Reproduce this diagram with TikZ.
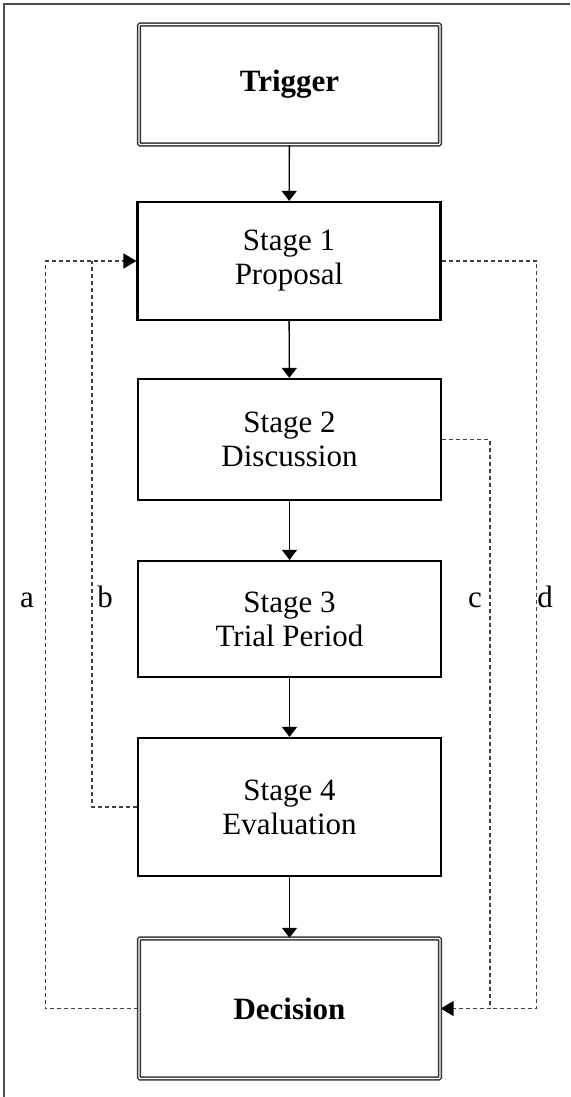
\documentclass[tikz,border=0pt]{standalone}
\usepackage{fontspec}
\setmainfont{Liberation Serif}
\usetikzlibrary{arrows.meta}
\begin{document}
\begin{tikzpicture}[x=1pt,y=1pt,
  txt/.style={font=\fontsize{31}{34}\selectfont},
  box/.style={txt, draw=black, line width=2.2pt, minimum width=303pt, align=center, inner sep=0pt},
  dbox/.style={txt, draw=black!80, line width=1.4pt, double=white, double distance=1.4pt,
    minimum width=301pt, align=center, inner sep=0pt, rounded corners=1pt, font=\fontsize{31}{34}\selectfont\bfseries},
  flow/.style={draw=black, line width=1.4pt, -{Triangle[width=15pt,length=10pt]}},
  fb/.style={draw=black!75, line width=1.6pt, dash pattern=on 4pt off 3pt},
  fbarrow/.style={fb, -{Triangle[width=15pt,length=13pt,color=black]}},
  lbl/.style={txt, inner sep=0pt, anchor=base}
]
\useasboundingbox (0,0) rectangle (570,-1097);
\draw[line width=2.2pt, black!70] (4,-1097) -- (4,-4) -- (570,-4);

\node[dbox, minimum height=120pt] (trig) at (289.5,-84.5) {Trigger};
\node[box, minimum height=118pt] (s1) at (289,-261) {Stage 1\\Proposal};
\node[box, minimum height=121pt] (s2) at (289.5,-439.5) {Stage 2\\Discussion};
\node[box, minimum height=116pt] (s3) at (289.5,-619) {Stage 3\\Trial Period};
\node[box, minimum height=138pt] (s4) at (289.5,-807) {Stage 4\\Evaluation};
\node[dbox, minimum height=140pt] (dec) at (289.5,-1008.5) {Decision};

\draw[flow] (trig) -- (s1);
\draw[flow] (s1) -- (s2);
\draw[flow] (s2) -- (s3);
\draw[flow] (s3) -- (s4);
\draw[flow] (s4) -- (dec);

\coordinate (bj) at (92,-261);
\coordinate (dj) at (489,-1008.5);
\draw[fbarrow] (dec.west) -- ++(-93,0) |- (s1.west);
\draw[fb] (s4.west) -| (bj);
\draw[fbarrow] (s2.east) -- ++(48,0) |- (dec.east);
\draw[fb] (s1.east) -- ++(95,0) |- (dj);

\node[lbl] (la) at (27,-607) {a};
\node[lbl] (lb) at (105,-607) {b};
\node[lbl] (lc) at (475,-607) {c};
\node[lbl] (ld) at (545,-607) {d};
\end{tikzpicture}
\end{document}
